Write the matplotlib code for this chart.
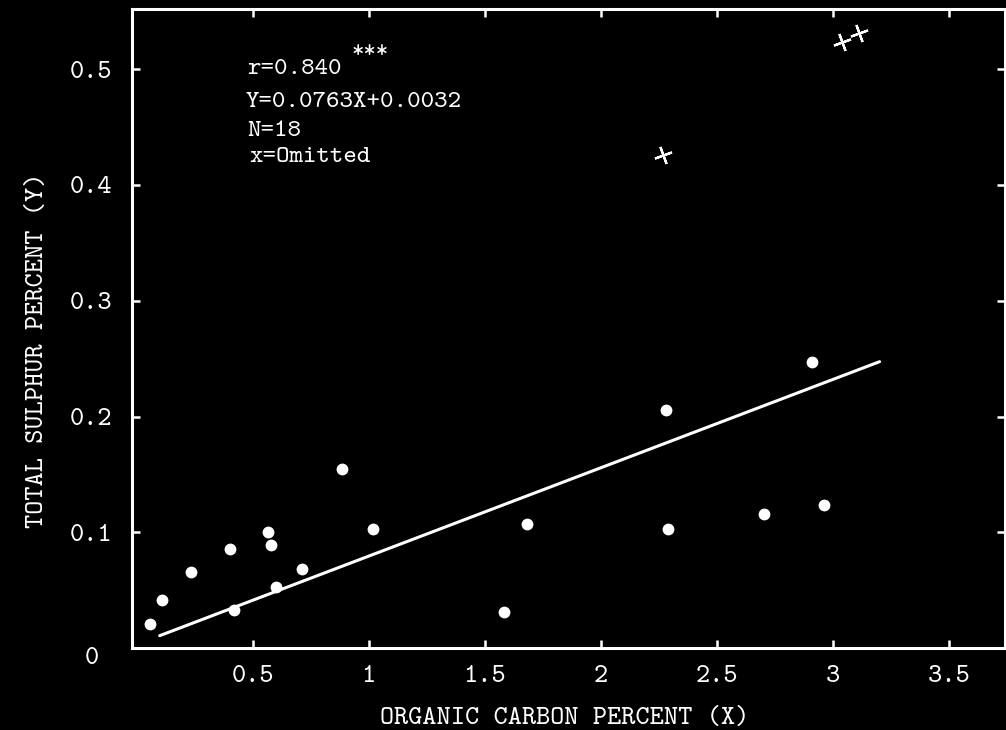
import matplotlib
matplotlib.use("Agg")
import matplotlib.pyplot as plt
import numpy as np

# ---- data ----
carbon = [0.06, 0.108, 0.237, 0.405, 0.418, 0.565, 0.578, 0.603, 0.711, 0.884,
          1.017, 1.582, 1.681, 2.280, 2.289, 2.703, 2.909, 2.960]
sulphur = [0.021, 0.042, 0.066, 0.086, 0.033, 0.100, 0.089, 0.053, 0.068, 0.155,
           0.103, 0.031, 0.107, 0.206, 0.103, 0.116, 0.247, 0.124]
omit_carbon = [2.267, 3.04, 3.11]
omit_sulphur = [0.426, 0.523, 0.531]
slope = 0.0763
intercept = 0.0032
line_x = [0.1, 3.2]
xticks = [0.5, 1, 1.5, 2, 2.5, 3, 3.5]
xticklabels = ["0.5", "1", "1.5", "2", "2.5", "3", "3.5"]
yticks = [0.1, 0.2, 0.3, 0.4, 0.5]
yticklabels = ["0.1", "0.2", "0.3", "0.4", "0.5"]
stats_lines = ["r=0.840", "Y=0.0763X+0.0032", "N=18", "x=Omitted"]

FONT = ["cmtt10", "DejaVu Sans Mono"]
FS = 19.5
plt.rcParams["font.family"] = FONT

fig = plt.figure(figsize=(10.06, 7.30), dpi=100, facecolor="black")
ax = fig.add_axes([0.131, 0.112, 0.868, 0.876], facecolor="black")

ax.set_xlim(-0.02, 3.74)
ax.set_ylim(0, 0.552)

for s in ax.spines.values():
    s.set_color("white")
    s.set_linewidth(2.2)

ax.set_xticks(xticks)
ax.set_xticklabels(xticklabels)
ax.set_yticks(yticks)
ax.set_yticklabels(yticklabels)
ax.tick_params(axis="both", which="both", direction="in", length=6, width=1.8,
               color="white", labelcolor="white", labelsize=FS,
               top=True, right=True)
ax.tick_params(axis="x", pad=12)
ax.tick_params(axis="y", pad=14)

# regression line
lx = np.array(line_x)
ax.plot(lx, slope * lx + intercept, color="white", lw=2.2, solid_capstyle="round")

# data points
ax.plot(carbon, sulphur, "o", color="white", markersize=8.5, markeredgewidth=0)
# omitted points
ax.plot(omit_carbon, omit_sulphur, linestyle="none", marker=(4, 2, 20),
        color="white", markersize=13, markeredgewidth=1.6)

# stats text
ys = [0.905, 0.854, 0.808, 0.767]
xs = [0.132, 0.130, 0.132, 0.135]
for t, x, y in zip(stats_lines, xs, ys):
    ax.text(x, y, t, transform=ax.transAxes, color="white", fontsize=18.5,
            ha="left", va="center")
ax.text(0.252, 0.930, "***", transform=ax.transAxes, color="white",
        fontsize=17, ha="left", va="center", fontweight="bold")

# corner zero
ax.text(-0.046, -0.016, "0", transform=ax.transAxes, color="white",
        fontsize=FS, ha="center", va="center", clip_on=False)

ax.set_xlabel("ORGANIC CARBON PERCENT (X)", color="white", fontsize=FS)
ax.xaxis.set_label_coords(0.496, -0.11)
ax.xaxis.label.set_va("center")
ax.set_ylabel("TOTAL SULPHUR PERCENT (Y)", color="white", fontsize=FS)
ax.yaxis.set_label_coords(-0.108, 0.466)
ax.yaxis.label.set_va("center")

fig.savefig("out.png", dpi=100, facecolor="black")
